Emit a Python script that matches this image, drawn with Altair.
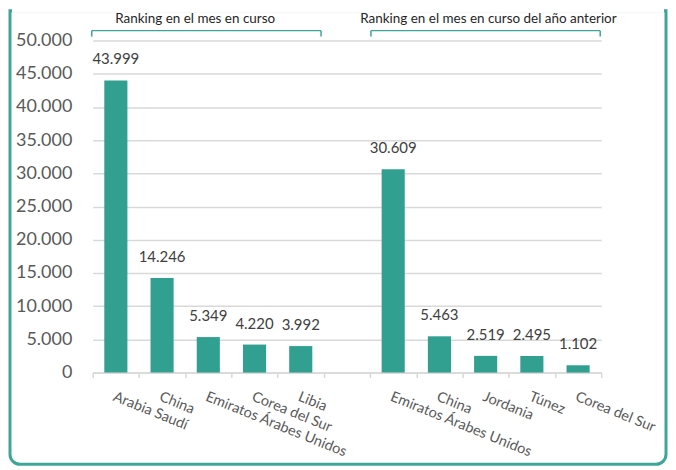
import altair as alt
import pandas as pd

# ---- data -------------------------------------------------------------
group1_names = ["Arabia Saudí", "China", "Emiratos Árabes Unidos", "Corea del Sur", "Libia"]
group1_values = [43999, 14246, 5349, 4220, 3992]
group2_names = ["Emiratos Árabes Unidos", "China", "Jordania", "Túnez", "Corea del Sur"]
group2_values = [30609, 5463, 2519, 2495, 1102]
group_titles = ["Ranking en el mes en curso", "Ranking en el mes en curso del año anterior"]
y_ticks = list(range(0, 50001, 5000))

rows = []
for i, (n, v) in enumerate(zip(group1_names, group1_values)):
    rows.append({"key": f"{i:02d}|{n}", "value": v})
rows.append({"key": "05|", "value": None})
for i, (n, v) in enumerate(zip(group2_names, group2_values)):
    rows.append({"key": f"{i + 6:02d}|{n}", "value": v})
df = pd.DataFrame(rows)
order = list(df["key"])

titles_df = pd.DataFrame({
    "title": group_titles,
    "key": [order[2], order[8]],
    "shift": [10, 26],
})

FONT = "Lato"
TEAL = "#31a090"
BORDER = "#3fa596"
GRID = "#d9d9d9"

x_enc = alt.X(
    "key:N",
    scale=alt.Scale(domain=order, paddingInner=0, paddingOuter=0),
    axis=alt.Axis(
        title=None,
        labelExpr="split(datum.value, '|')[1]",
        labelAngle=22,
        labelAlign="left",
        labelBaseline="top",
        tickBand="extent",
        tickSize=5,
        tickColor=GRID,
        tickWidth=1.5,
        domainColor=GRID,
        domainWidth=1.5,
        labelPadding=12,
        labelFont=FONT,
        labelFontSize=14.5,
        labelColor="#595959",
        labelOverlap=False,
        labelBound=False,
        grid=False,
    ),
)
y_enc = alt.Y(
    "value:Q",
    scale=alt.Scale(domain=[0, 50000], nice=False),
    axis=alt.Axis(
        title=None,
        values=y_ticks,
        labelOverlap=False,
        labelExpr="replace(format(datum.value, ','), ',', '.')",
        labelFont=FONT,
        labelFontSize=18,
        labelColor="#595959",
        labelPadding=21,
        ticks=False,
        domain=False,
        grid=True,
        gridColor=GRID,
        gridWidth=1.5,
    ),
)

base = alt.Chart(df).transform_filter("isValid(datum.value)")
one = pd.DataFrame({"a": [0]})

border = alt.Chart(one).mark_rect(
    fillOpacity=0, stroke=BORDER, strokeWidth=3,
    cornerRadiusBottomLeft=10, cornerRadiusBottomRight=10,
).encode(
    x=alt.value(-83), x2=alt.value(575), y=alt.value(-30), y2=alt.value(425)
)
# hide the top edge of the frame (the reference frame runs past the top)
border_top = alt.Chart(one).mark_rule(color="white", strokeWidth=4).encode(
    x=alt.value(-81), x2=alt.value(573), y=alt.value(-30)
)

bars = base.mark_bar(width=alt.RelativeBandSize(0.5), color=TEAL).encode(x=x_enc, y=y_enc)

labels = base.transform_calculate(
    lab="replace(format(datum.value, ','), ',', '.')"
).mark_text(
    baseline="bottom", dy=-13, font=FONT, fontSize=15, color="#404040"
).encode(x=x_enc, y=y_enc, text="lab:N")

titles = alt.Chart(titles_df).mark_text(
    baseline="middle", font=FONT, fontSize=13.5, color="#262626"
).encode(
    x=x_enc, y=alt.value(-22), text="title:N", xOffset=alt.XOffset("shift:Q", scale=None)
)

bracket_style = dict(color=BORDER, strokeWidth=1.5)
brackets = alt.layer(
    alt.Chart(one).mark_rule(**bracket_style).encode(x=alt.value(-1), x2=alt.value(229), y=alt.value(-10)),
    alt.Chart(one).mark_rule(**bracket_style).encode(x=alt.value(-1), y=alt.value(-10), y2=alt.value(-4)),
    alt.Chart(one).mark_rule(**bracket_style).encode(x=alt.value(229), y=alt.value(-10), y2=alt.value(-4)),
    alt.Chart(one).mark_rule(**bracket_style).encode(x=alt.value(279), x2=alt.value(509), y=alt.value(-10)),
    alt.Chart(one).mark_rule(**bracket_style).encode(x=alt.value(279), y=alt.value(-10), y2=alt.value(-4)),
    alt.Chart(one).mark_rule(**bracket_style).encode(x=alt.value(509), y=alt.value(-10), y2=alt.value(-4)),
)

chart = alt.layer(border, border_top, bars, labels, titles, brackets).properties(
    width=510,
    height=333,
    padding=0,
    background="white",
).configure_view(stroke=None)

chart.save("out.html", embed_options={"renderer": "svg", "actions": False})
